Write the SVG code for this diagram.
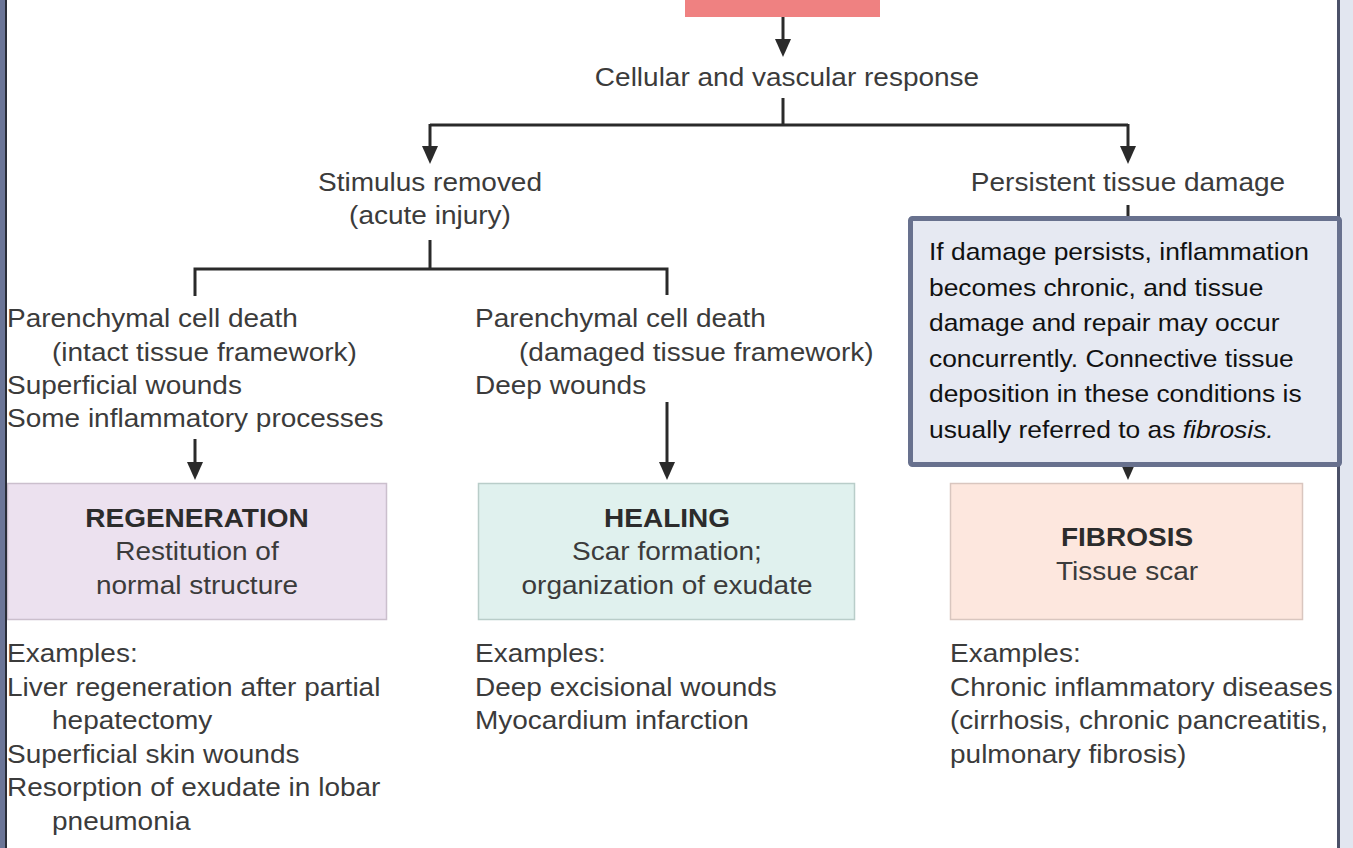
<svg xmlns="http://www.w3.org/2000/svg" width="1353" height="848" viewBox="0 0 1353 848">
<style>
.t{font-family:"Liberation Sans",Arial,Helvetica,sans-serif;font-size:25px;fill:#3b3b3b}
.b{font-weight:bold;fill:#2c2c2c}
.m{text-anchor:middle}
.c{font-family:"Liberation Sans",Arial,Helvetica,sans-serif;font-size:24px;fill:#111}
.ln{fill:none;stroke:#2a2a2a;stroke-width:3}
.ar{fill:none;stroke:#2a2a2a;stroke-width:3;marker-end:url(#ah)}
</style>
<defs>
<marker id="ah" markerUnits="userSpaceOnUse" markerWidth="20" markerHeight="18" refX="10" refY="8" orient="auto" viewBox="0 0 20 18">
<path d="M0,0 L18,8 L0,16 z" fill="#2a2a2a"/>
</marker>
</defs>
<rect x="0" y="0" width="1353" height="848" fill="#ffffff"/>

<g id="top-box">
<rect x="685" y="-4" width="195" height="21" fill="#ef8181"/>
</g>

<g id="cellular">
<text class="t m" transform="translate(787 86) scale(1.12 1)">Cellular and vascular response</text>
</g>

<g id="stimulus">
<text class="t m" transform="translate(430 191) scale(1.12 1)">Stimulus removed</text>
<text class="t m" transform="translate(430 224) scale(1.12 1)">(acute injury)</text>
</g>

<g id="persistent">
<text class="t m" transform="translate(1128 191) scale(1.12 1)">Persistent tissue damage</text>
</g>

<g id="left-cond">
<text class="t" transform="translate(7 327) scale(1.12 1)">Parenchymal cell death</text>
<text class="t" transform="translate(52 360.5) scale(1.12 1)">(intact tissue framework)</text>
<text class="t" transform="translate(7 394) scale(1.12 1)">Superficial wounds</text>
<text class="t" transform="translate(7 427) scale(1.12 1)">Some inflammatory processes</text>
</g>

<g id="mid-cond">
<text class="t" transform="translate(475 327) scale(1.12 1)">Parenchymal cell death</text>
<text class="t" transform="translate(519 360.5) scale(1.12 1)">(damaged tissue framework)</text>
<text class="t" transform="translate(475 394) scale(1.12 1)">Deep wounds</text>
</g>

<g id="regeneration">
<rect x="7.5" y="483.5" width="379" height="136" fill="#ece1ef" stroke="#cbbfcd" stroke-width="1.5"/>
<text class="t b m" transform="translate(197 527) scale(1.12 1)">REGENERATION</text>
<text class="t m" transform="translate(197 560) scale(1.12 1)">Restitution of</text>
<text class="t m" transform="translate(197 594) scale(1.12 1)">normal structure</text>
</g>

<g id="healing">
<rect x="478.5" y="483.5" width="376" height="136" fill="#e0f1ee" stroke="#b9cdc9" stroke-width="1.5"/>
<text class="t b m" transform="translate(667 527) scale(1.12 1)">HEALING</text>
<text class="t m" transform="translate(667 560) scale(1.12 1)">Scar formation;</text>
<text class="t m" transform="translate(667 594) scale(1.12 1)">organization of exudate</text>
</g>

<g id="fibrosis">
<rect x="950.5" y="483.5" width="352" height="136" fill="#fde7de" stroke="#d9c6bf" stroke-width="1.5"/>
<text class="t b m" transform="translate(1127 546) scale(1.12 1)">FIBROSIS</text>
<text class="t m" transform="translate(1127 580) scale(1.12 1)">Tissue scar</text>
</g>

<g id="left-examples">
<text class="t" transform="translate(7 662) scale(1.12 1)">Examples:</text>
<text class="t" transform="translate(7 695.5) scale(1.12 1)">Liver regeneration after partial</text>
<text class="t" transform="translate(52 729) scale(1.12 1)">hepatectomy</text>
<text class="t" transform="translate(7 762.5) scale(1.12 1)">Superficial skin wounds</text>
<text class="t" transform="translate(7 796) scale(1.12 1)">Resorption of exudate in lobar</text>
<text class="t" transform="translate(52 829.5) scale(1.12 1)">pneumonia</text>
</g>

<g id="mid-examples">
<text class="t" transform="translate(475 662) scale(1.12 1)">Examples:</text>
<text class="t" transform="translate(475 695.5) scale(1.12 1)">Deep excisional wounds</text>
<text class="t" transform="translate(475 729) scale(1.12 1)">Myocardium infarction</text>
</g>

<g id="right-examples">
<text class="t" transform="translate(950 662) scale(1.12 1)">Examples:</text>
<text class="t" transform="translate(950 695.5) scale(1.12 1)">Chronic inflammatory diseases</text>
<text class="t" transform="translate(950 729) scale(1.12 1)">(cirrhosis, chronic pancreatitis,</text>
<text class="t" transform="translate(950 762.5) scale(1.12 1)">pulmonary fibrosis)</text>
</g>

<g id="connectors">
<path class="ar" d="M783,17 V49"/>
<path class="ln" d="M783,98 V125"/>
<path class="ln" d="M430,125 H1128"/>
<path class="ar" d="M430,124 V156"/>
<path class="ar" d="M1128,124 V156"/>
<path class="ln" d="M430,240 V269"/>
<path class="ln" d="M195,296 V269 H667 V295"/>
<path class="ar" d="M195,439 V472"/>
<path class="ar" d="M667,402 V472"/>
<path class="ar" d="M1128,205 V472"/>
</g>

<g id="frame">
<rect x="0" y="0" width="5" height="848" fill="#6b7597"/>
<rect x="5" y="0" width="2" height="848" fill="#2a2d38"/>
<rect x="1337" y="0" width="3" height="848" fill="#4b5168"/>
<rect x="1340" y="0" width="13" height="848" fill="#e2e6f0"/>
</g>

<g id="callout">
<rect x="910.5" y="218.5" width="429" height="246" rx="2" fill="#e6e9f2" stroke="#68718e" stroke-width="5"/>
<text class="c" transform="translate(929 260) scale(1.1 1)">If damage persists, inflammation</text>
<text class="c" transform="translate(929 295.5) scale(1.1 1)">becomes chronic, and tissue</text>
<text class="c" transform="translate(929 331) scale(1.1 1)">damage and repair may occur</text>
<text class="c" transform="translate(929 366.5) scale(1.1 1)">concurrently. Connective tissue</text>
<text class="c" transform="translate(929 402) scale(1.1 1)">deposition in these conditions is</text>
<text class="c" transform="translate(929 437.5) scale(1.1 1)">usually referred to as <tspan font-style="italic">fibrosis.</tspan></text>
</g>
</svg>
